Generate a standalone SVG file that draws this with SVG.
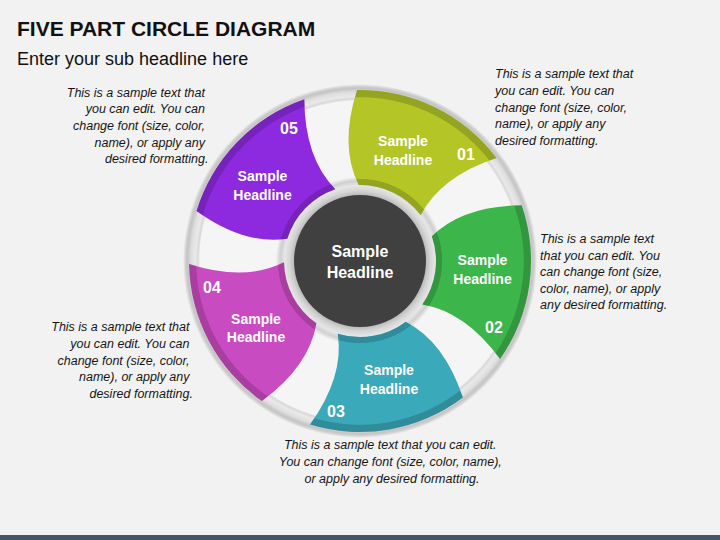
<svg xmlns="http://www.w3.org/2000/svg" xmlns:xlink="http://www.w3.org/1999/xlink" width="720" height="540" viewBox="0 0 720 540">
  <defs>
    <style>
      .title { font-family: "Liberation Sans", Arial, sans-serif; font-weight: bold; font-size: 21px; fill: #111111; }
      .sub { font-family: "Liberation Sans", Arial, sans-serif; font-size: 18px; fill: #111111; }
      .desc { font-family: "Liberation Sans", Arial, sans-serif; font-style: italic; font-size: 12.5px; fill: #151515; }
      .lbl { font-family: "Liberation Sans", Arial, sans-serif; font-weight: bold; font-size: 14px; fill: #ffffff; text-anchor: middle; }
      .num { font-family: "Liberation Sans", Arial, sans-serif; font-weight: bold; font-size: 16px; fill: #ffffff; text-anchor: middle; }
      .ctr { font-family: "Liberation Sans", Arial, sans-serif; font-weight: bold; font-size: 16px; fill: #ffffff; text-anchor: middle; }
      .band { fill: url(#bandGrad); }
    </style>
    <radialGradient id="outerRing" gradientUnits="userSpaceOnUse" cx="360" cy="261" r="177">
      <stop offset="0.905" stop-color="#f5f5f5"/>
      <stop offset="0.915" stop-color="#d8d8d8"/>
      <stop offset="0.93" stop-color="#e9e9e9"/>
      <stop offset="0.955" stop-color="#dedede"/>
      <stop offset="0.975" stop-color="#c4c4c4"/>
      <stop offset="0.985" stop-color="#cfcfcf"/>
      <stop offset="1" stop-color="#f2f2f2"/>
    </radialGradient>
    <radialGradient id="innerRing" gradientUnits="userSpaceOnUse" cx="360" cy="261" r="84">
      <stop offset="0.78" stop-color="#b8b8b8"/>
      <stop offset="0.84" stop-color="#d6d6d6"/>
      <stop offset="0.9" stop-color="#e6e6e6"/>
      <stop offset="0.95" stop-color="#cfcfcf"/>
      <stop offset="1" stop-color="#f2f2f2"/>
    </radialGradient>
    <radialGradient id="bandGrad" gradientUnits="userSpaceOnUse" cx="360" cy="261" r="171">
      <stop offset="0.44" stop-color="#000000" stop-opacity="0.17"/>
      <stop offset="0.478" stop-color="#000000" stop-opacity="0.17"/>
      <stop offset="0.482" stop-color="#000000" stop-opacity="0"/>
      <stop offset="0.955" stop-color="#000000" stop-opacity="0"/>
      <stop offset="0.96" stop-color="#000000" stop-opacity="0.17"/>
      <stop offset="1" stop-color="#000000" stop-opacity="0.17"/>
    </radialGradient>
    <path id="p1" d="M357.02,90.03 A171,171 0 0 1 496.57,158.09 Q440.72,176.6 420.7,215.26 A76,76 0 0 0 358.67,185.01 Q339.16,146.08 357.02,90.03 Z"/>
    <path id="p2" d="M521.68,205.33 A171,171 0 0 1 500.07,359.08 Q465.22,311.69 422.26,304.59 A76,76 0 0 0 431.86,236.26 Q462.85,205.67 521.68,205.33 Z"/>
    <path id="p3" d="M462.91,397.57 A171,171 0 0 1 310,424.52 Q344.3,376.73 337.78,333.68 A76,76 0 0 0 405.74,321.7 Q444.4,341.72 462.91,397.57 Z"/>
    <path id="p4" d="M261.92,401.07 A171,171 0 0 1 189.03,263.98 Q245.08,281.84 284.01,262.33 A76,76 0 0 0 316.41,323.26 Q309.31,366.22 261.92,401.07 Z"/>
    <path id="p5" d="M196.48,211 A171,171 0 0 1 304.33,99.32 Q304.67,158.15 335.26,189.14 A76,76 0 0 0 287.32,238.78 Q244.27,245.3 196.48,211 Z"/>
  </defs>

  <rect x="0" y="0" width="720" height="540" fill="#f2f2f2"/>
  <rect x="0" y="535" width="720" height="5" fill="#44546a"/>

  <text class="title" x="17" y="36">FIVE PART CIRCLE DIAGRAM</text>
  <text class="sub" x="17" y="65">Enter your sub headline here</text>

  <g id="rings">
    <circle cx="360" cy="261" r="177" fill="url(#outerRing)"/>
    <circle cx="360" cy="261" r="84" fill="url(#innerRing)"/>
  </g>

  <g id="connectors"/>

  <g id="seg1">
    <use xlink:href="#p1" href="#p1" fill="#b4c626"/>
    <use xlink:href="#p1" href="#p1" class="band"/>
    <text class="lbl" x="403" y="146">Sample</text>
    <text class="lbl" x="403" y="164.5">Headline</text>
    <text class="num" x="466" y="160">01</text>
    <text class="desc" x="495">
      <tspan x="495" y="78.3">This is a sample text that</tspan>
      <tspan x="495" y="95">you can edit. You can</tspan>
      <tspan x="495" y="111.7">change font (size, color,</tspan>
      <tspan x="495" y="128.4">name), or apply any</tspan>
      <tspan x="495" y="145">desired formatting.</tspan>
    </text>
  </g>

  <g id="seg2">
    <use xlink:href="#p2" href="#p2" fill="#3cb54b"/>
    <use xlink:href="#p2" href="#p2" class="band"/>
    <text class="lbl" x="482.5" y="265">Sample</text>
    <text class="lbl" x="482.5" y="283.5">Headline</text>
    <text class="num" x="494" y="333">02</text>
    <text class="desc">
      <tspan x="540" y="243.3">This is a sample text</tspan>
      <tspan x="540" y="259.8">that you can edit. You</tspan>
      <tspan x="540" y="276.3">can change font (size,</tspan>
      <tspan x="540" y="292.8">color, name), or apply</tspan>
      <tspan x="540" y="309.3">any desired formatting.</tspan>
    </text>
  </g>

  <g id="seg3">
    <use xlink:href="#p3" href="#p3" fill="#3aa9ba"/>
    <use xlink:href="#p3" href="#p3" class="band"/>
    <text class="lbl" x="389" y="375">Sample</text>
    <text class="lbl" x="389" y="393.5">Headline</text>
    <text class="num" x="336" y="417">03</text>
    <text class="desc" text-anchor="middle">
      <tspan x="392" y="449.3">This is a sample text that you can edit.</tspan>
      <tspan x="392" y="466.3">You can change font (size, color, name),</tspan>
      <tspan x="392" y="483.3">or apply any desired formatting.</tspan>
    </text>
  </g>

  <g id="seg4">
    <use xlink:href="#p4" href="#p4" fill="#c94bc1"/>
    <use xlink:href="#p4" href="#p4" class="band"/>
    <text class="lbl" x="256" y="323.5">Sample</text>
    <text class="lbl" x="256" y="342">Headline</text>
    <text class="num" x="212" y="293">04</text>
    <text class="desc" text-anchor="end">
      <tspan x="193" y="331.3">This is a sample text that</tspan>
      <tspan x="193" y="347.9">you can edit. You can</tspan>
      <tspan x="193" y="364.5">change font (size, color,</tspan>
      <tspan x="193" y="381.1">name), or apply any</tspan>
      <tspan x="193" y="397.7">desired formatting.</tspan>
    </text>
  </g>

  <g id="seg5">
    <use xlink:href="#p5" href="#p5" fill="#8d2ae0"/>
    <use xlink:href="#p5" href="#p5" class="band"/>
    <text class="lbl" x="262.5" y="181">Sample</text>
    <text class="lbl" x="262.5" y="199.5">Headline</text>
    <text class="num" x="289" y="133.5">05</text>
    <text class="desc" text-anchor="end">
      <tspan x="208.5" y="96.7">This is a sample text that</tspan>
      <tspan x="208.5" y="113.3">you can edit. You can</tspan>
      <tspan x="208.5" y="129.9">change font (size, color,</tspan>
      <tspan x="208.5" y="146.5">name), or apply any</tspan>
      <tspan x="208.5" y="163.1">desired formatting.</tspan>
    </text>
  </g>

  <g id="center">
    <circle cx="360" cy="261" r="66" fill="#404040"/>
    <text class="ctr" x="360" y="257">Sample</text>
    <text class="ctr" x="360" y="277.5">Headline</text>
  </g>
</svg>
